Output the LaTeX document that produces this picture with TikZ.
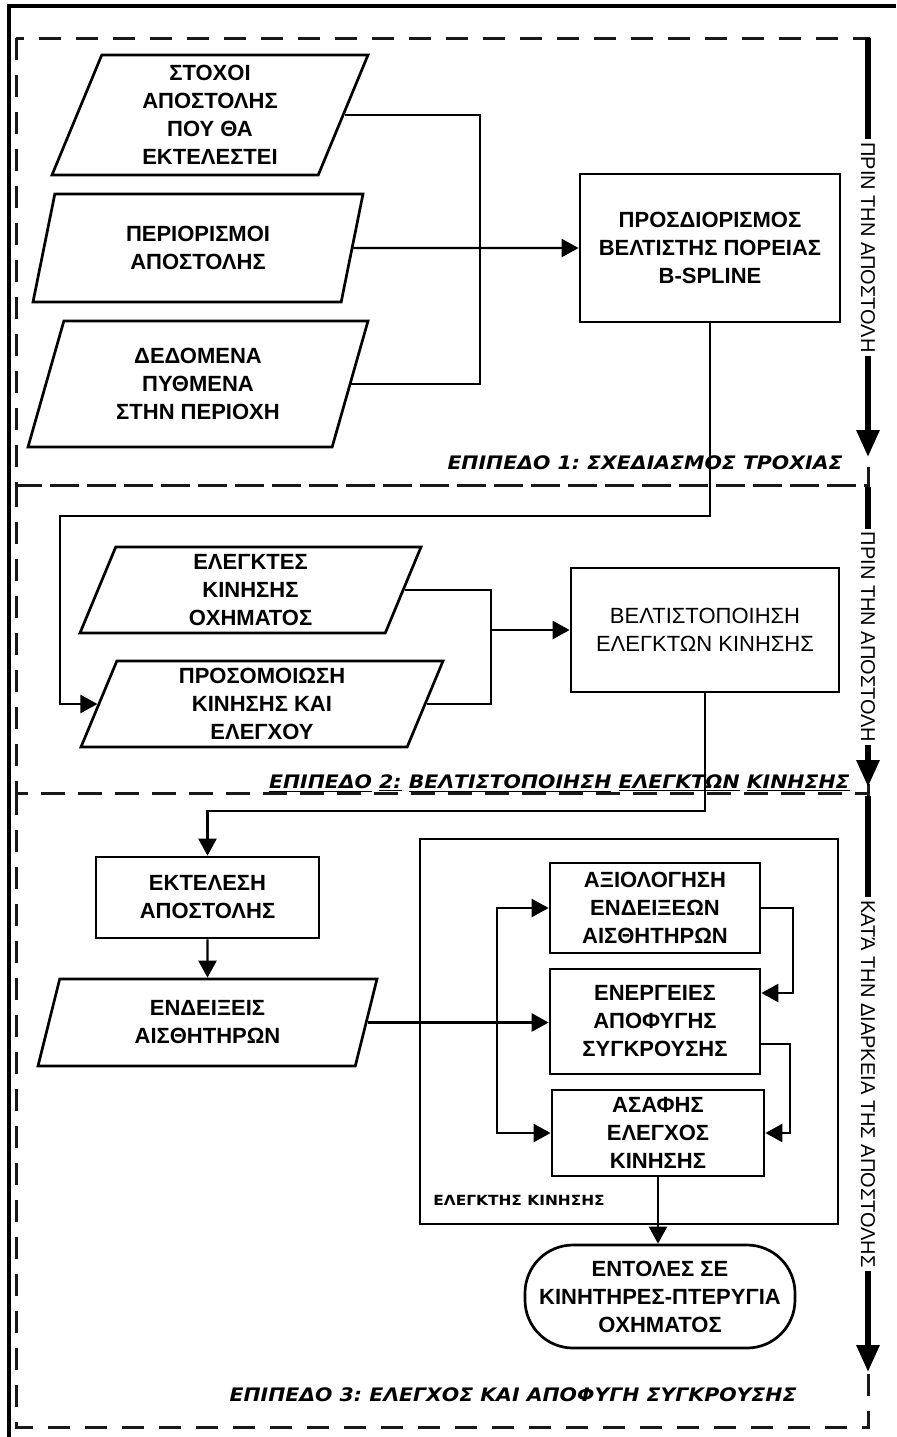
\documentclass[tikz,border=0pt]{standalone}
\usepackage{fontspec}
\setmainfont{Liberation Sans}
\newfontfamily\lvlfont{DejaVu Sans}[FakeStretch=1.1]
\usetikzlibrary{arrows.meta,shapes.geometric}
\frenchspacing

\begin{document}
\begin{tikzpicture}[x=0.5pt,y=-0.5pt,
  font=\fontsize{11}{14}\selectfont\bfseries,
  sz/.style 2 args={minimum width={#1*0.5pt}, minimum height={#2*0.5pt}},
  procbox/.style={draw, line width=1.35pt, inner sep=0pt, align=center},
  databox/.style={draw, line width=1.35pt, inner sep=0pt, align=center,
    trapezium, trapezium left angle=63.4, trapezium right angle=116.6,
    trapezium stretches body},
  termbox/.style={draw, line width=1.35pt, inner sep=0pt, align=center,
    rounded corners=24pt},
  conn/.style={line width=1.15pt},
  arr/.style={conn, -{Triangle[length=8.5pt,width=9pt]}},
  biarr/.style={conn, {Triangle[length=8.5pt,width=9pt]}-{Triangle[length=8.5pt,width=9pt]}},
  zone/.style={line width=1.5pt, dash pattern=on 11pt off 7.5pt, black!90},
  phase/.style={line width=3pt, -{Triangle[length=13.5pt,width=11pt]}},
  phasetext/.style={fill=white, inner sep=1.5pt, rotate=-90,
    font=\fontsize{10}{12}\selectfont\mdseries},
  lvltext/.style={inner sep=0pt, anchor=base east,
    font=\lvlfont\bfseries\itshape\fontsize{9.3}{11}\selectfont},
]
\useasboundingbox (0,0) rectangle (896,1437);

% outer frame
\draw[line width=1.7pt] (896,6) -- (9,6) -- (9,1437);

% the three planning levels
\draw[zone] (16,38) rectangle (868,485);
\draw[zone] (16,485) rectangle (868,793);
\draw[zone] (16,793) rectangle (868,1427);

% level captions
\node[lvltext] (lab1) at (843,469) {ΕΠΙΠΕΔΟ 1: ΣΧΕΔΙΑΣΜΟΣ ΤΡΟΧΙΑΣ};
\node[lvltext] (lab2) at (850,788) {\underline{ΕΠΙΠΕΔΟ} \underline{2:} \underline{ΒΕΛΤΙΣΤΟΠΟΙΗΣΗ} \underline{ΕΛΕΓΚΤΩΝ} \underline{ΚΙΝΗΣΗΣ}};
\node[lvltext] (lab3) at (797,1401) {ΕΠΙΠΕΔΟ 3: ΕΛΕΓΧΟΣ ΚΑΙ ΑΠΟΦΥΓΗ ΣΥΓΚΡΟΥΣΗΣ};

% phase arrows on the right
\coordinate (a1s) at (868,38);   \coordinate (a1e) at (868,457);
\coordinate (a2s) at (868,487);  \coordinate (a2e) at (868,787);
\coordinate (a3s) at (868,796);  \coordinate (a3e) at (868,1372);
\draw[phase] (a1s) -- (a1e) node[midway, phasetext] (ph1) {ΠΡΙΝ ΤΗΝ ΑΠΟΣΤΟΛΗ};
\draw[phase] (a2s) -- (a2e) node[midway, phasetext] (ph2) {ΠΡΙΝ ΤΗΝ ΑΠΟΣΤΟΛΗ};
\draw[phase] (a3s) -- (a3e) node[midway, phasetext] (ph3) {ΚΑΤΆ ΤΗΝ ΔΙΑΡΚΕΙΑ ΤΗΣ ΑΠΟΣΤΟΛΗΣ};

% level 1
\node[databox, sz={316}{120}] (s1) at (210,115) {ΣΤΟΧΟΙ\\ΑΠΟΣΤΟΛΗΣ\\ΠΟΥ ΘΑ\\ΕΚΤΕΛΕΣΤΕΙ};
\node[databox, sz={330}{108}] (s2) at (198,248) {ΠΕΡΙΟΡΙΣΜΟΙ\\ΑΠΟΣΤΟΛΗΣ};
\node[databox, sz={340}{126}] (s3) at (198,384) {ΔΕΔΟΜΕΝΑ\\ΠΥΘΜΕΝΑ\\ΣΤΗΝ ΠΕΡΙΟΧΗ};
\node[procbox, sz={260}{148}] (p1) at (710,248) {ΠΡΟΣΔΙΟΡΙΣΜΟΣ\\ΒΕΛΤΙΣΤΗΣ ΠΟΡΕΙΑΣ\\B-SPLINE};

\coordinate (j1) at (480,248);
\draw[conn] (s1.east) -| (j1);
\draw[conn] (s3.east) -| (j1);
\draw[arr] (s2.east) -- (p1.west);

% level 2
\node[databox, sz={341}{86}] (q1) at (250.5,590) {ΕΛΕΓΚΤΕΣ\\ΚΙΝΗΣΗΣ\\ΟΧΗΜΑΤΟΣ};
\node[databox, sz={362}{86}] (q2) at (262,704) {ΠΡΟΣΟΜΟΙΩΣΗ\\ΚΙΝΗΣΗΣ ΚΑΙ\\ΕΛΕΓΧΟΥ};
\node[procbox, sz={268}{124}, font=\fontsize{11}{14}\selectfont\mdseries] (b2) at (705,630) {ΒΕΛΤΙΣΤΟΠΟΙΗΣΗ\\ΕΛΕΓΚΤΩΝ ΚΙΝΗΣΗΣ};

\coordinate (k2) at (60,516);
\draw[arr] (p1.south) |- (k2) |- (q2.west);

\coordinate (j2) at (491,630);
\draw[conn] (q1.east) -| (j2);
\draw[conn] (q2.east) -| (j2);
\draw[arr] (j2) -- (b2.west);

% level 3
\node[procbox, sz={223}{81}] (e1) at (207.5,897.5) {ΕΚΤΕΛΕΣΗ\\ΑΠΟΣΤΟΛΗΣ};
\node[databox, sz={339}{87}] (e2) at (207.5,1022.5) {ΕΝΔΕΙΞΕΙΣ\\ΑΙΣΘΗΤΗΡΩΝ};

\coordinate (k3) at (207,811);
\draw[arr] (b2.south) |- (e1.north |- k3) -- (e1.north);
\draw[arr] (e1.south) -- (e2.north);

% motion controller
\node[draw, line width=1.15pt, sz={418}{385}] (ctrl) at (629,1031.5) {};
\node[inner sep=0pt, anchor=base west, font=\lvlfont\bfseries\fontsize{7}{8}\selectfont] (ctrllab) at (433,1205) {ΕΛΕΓΚΤΗΣ ΚΙΝΗΣΗΣ};

\node[procbox, sz={210}{90}] (c1) at (655,908) {ΑΞΙΟΛΟΓΗΣΗ\\ΕΝΔΕΙΞΕΩΝ\\ΑΙΣΘΗΤΗΡΩΝ};
\node[procbox, sz={210}{105}] (c2) at (655,1021.5) {ΕΝΕΡΓΕΙΕΣ\\ΑΠΟΦΥΓΗΣ\\ΣΥΓΚΡΟΥΣΗΣ};
\node[procbox, sz={212}{86}] (c3) at (658,1133) {ΑΣΑΦΗΣ\\ΕΛΕΓΧΟΣ\\ΚΙΝΗΣΗΣ};

\draw[arr] (e2.east) -- (e2.east -| c2.west);

\coordinate (bus) at (497,1000);
\draw[biarr] (c1.west) -- (c1.west -| bus) -- (c3.west -| bus) -- (c3.west);

\coordinate (r1) at (793,1000);
\coordinate (r2) at (790,1000);
\coordinate (c2in) at ([yshift=14.25pt]c2.east);
\coordinate (c2out) at ([yshift=-11.25pt]c2.east);
\draw[arr] (c1.east) -| (r1 |- c2in) -- (c2in);
\draw[arr] (c2out) -| (r2 |- c3.east) -- (c3.east);

\node[termbox, sz={270}{103}] (t1) at (660,1296.5) {ΕΝΤΟΛΕΣ ΣΕ\\ΚΙΝΗΤΗΡΕΣ-ΠΤΕΡΥΓΙΑ\\ΟΧΗΜΑΤΟΣ};
\draw[arr] (c3.south) -- (c3.south |- t1.north);

\end{tikzpicture}
\end{document}
